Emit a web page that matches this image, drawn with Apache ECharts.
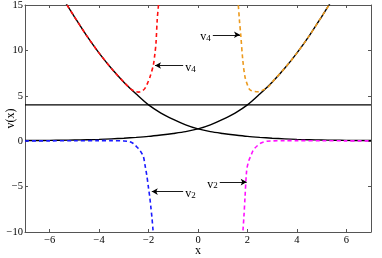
<!DOCTYPE html>
<html><head><meta charset="utf-8">
<script src="https://cdn.jsdelivr.net/npm/echarts@6/dist/echarts.min.js"></script>
<style>html,body{margin:0;padding:0;background:#fff}#c{width:382px;height:258px}</style>
</head><body><div id="c"></div>
<script>
// Axis ticks
var xTicks = [-6, -4, -2, 0, 2, 4, 6];
var yTicks = [-10, -5, 0, 5, 10, 15];
var horizLevel = 4;

// Black curve decreasing (left-high)
var blackDecX = [-5.6, -5.3, -5.0, -4.5, -4.0, -3.5, -3.0, -2.5, -2.0, -1.5, -1.0, -0.5, 0, 0.5, 1.0, 1.5, 2.0, 2.5, 3.0, 3.5, 4.0, 4.5, 5.0, 5.5, 6.0, 6.5, 7.0];
var blackDecY = [16.3, 15.0, 13.7, 11.6, 9.7, 8.0, 6.5, 5.2, 4.0, 3.1, 2.4, 1.8, 1.35, 1.05, 0.85, 0.68, 0.53, 0.42, 0.33, 0.26, 0.2, 0.16, 0.13, 0.11, 0.09, 0.08, 0.07];
// Black curve increasing (right-high)
var blackIncX = [-7.0, -6.5, -6.0, -5.5, -5.0, -4.5, -4.0, -3.5, -3.0, -2.5, -2.0, -1.5, -1.0, -0.5, 0, 0.5, 1.0, 1.5, 2.0, 2.5, 3.0, 3.5, 4.0, 4.5, 5.0, 5.3, 5.6];
var blackIncY = [0.07, 0.08, 0.09, 0.11, 0.13, 0.16, 0.2, 0.26, 0.33, 0.42, 0.53, 0.68, 0.85, 1.05, 1.35, 1.8, 2.4, 3.1, 4.0, 5.2, 6.5, 8.0, 9.7, 11.6, 13.7, 15.0, 16.3];

// v4 (left, red)
var v4LeftX = [-5.6, -5.3, -5.0, -4.5, -4.0, -3.5, -3.0, -2.7, -2.55, -2.4, -2.25, -2.14, -2.04, -1.94, -1.81, -1.75, -1.70, -1.65, -1.60, -1.57];
var v4LeftY = [16.3, 15.0, 13.7, 11.6, 9.7, 8.0, 6.5, 5.7, 5.5, 5.4, 5.55, 5.85, 6.4, 7.1, 8.35, 9.5, 10.8, 13.4, 15.0, 16.5];
// v4 (right, orange)
var v4RightX = [1.57, 1.63, 1.68, 1.73, 1.81, 1.9, 2.0, 2.1, 2.25, 2.44, 2.6, 2.85, 3.0, 3.5, 4.0, 4.5, 5.0, 5.3, 5.6];
var v4RightY = [16.5, 15.0, 13.2, 11.7, 9.0, 7.1, 6.2, 5.66, 5.5, 5.45, 5.6, 6.0, 6.5, 8.0, 9.7, 11.6, 13.7, 15.0, 16.3];

// v2 (left, blue)
var v2LeftX = [-7.0, -6.0, -5.0, -4.0, -3.5, -3.0, -2.8, -2.65, -2.55, -2.45, -2.35, -2.21, -2.14, -2.07, -2.01, -1.95, -1.91, -1.86, -1.82, -1.79];
var v2LeftY = [0.03, 0.04, 0.05, 0.06, 0.06, 0.03, -0.03, -0.2, -0.42, -0.7, -1.0, -1.7, -2.7, -3.8, -5.0, -6.2, -7.2, -8.5, -9.8, -10.6];
// v2 (right, magenta)
var v2RightX = [1.79, 1.82, 1.86, 1.9, 1.97, 2.05, 2.14, 2.24, 2.4, 2.55, 2.78, 3.0, 3.5, 4.0, 5.0, 6.0, 7.0];
var v2RightY = [-10.6, -9.8, -8.2, -6.3, -3.2, -2.2, -1.6, -0.97, -0.5, -0.2, 0.0, 0.03, 0.06, 0.06, 0.05, 0.04, 0.03];

// Annotations: [label, subscript, arrowFromX, arrowToX, y]
var notes = [
  ['v', '4', -0.6, -1.74, 8.34],
  ['v', '4', 0.6, 1.70, 11.72],
  ['v', '2', -0.6, -1.87, -5.55],
  ['v', '2', 0.88, 1.97, -4.5]
];

function pairs(xs, ys) { return xs.map(function (x, i) { return [x, ys[i]]; }); }
var FONT = 'Liberation Serif';
function fmt(v) { return String(v).replace('-', '\u2212'); }

var chart = echarts.init(document.getElementById('c'));
function axis(o, ticks, showLabel, margin, extra) {
  return Object.assign({
    type: 'value',
    axisLine: { show: true, onZero: false, lineStyle: { color: '#555', width: 1 } },
    axisTick: { show: true, inside: true, length: 3, customValues: ticks, lineStyle: { color: '#555' } },
    axisLabel: { show: showLabel, margin: margin, customValues: ticks, fontFamily: FONT, fontSize: 10.5, color: '#000', formatter: fmt },
    splitLine: { show: false }
  }, o, extra || {});
}

var series = [];
function addLine(xs, ys, color, width, dashed, z) {
  series.push({
    type: 'line', data: pairs(xs, ys), showSymbol: false, symbol: 'none', smooth: 0.3,
    clip: true, z: z, lineStyle: { color: color, width: width, type: dashed ? [4, 3] : 'solid' }, silent: true
  });
}
addLine(blackDecX, blackDecY, '#000', 1.4, false, 2);
addLine(blackIncX, blackIncY, '#000', 1.4, false, 2);
series.push({ type: 'line', data: [[-7, horizLevel], [7, horizLevel]], showSymbol: false, symbol: 'none', z: 2,
  lineStyle: { color: '#000', width: 1.4 }, silent: true });
addLine(v4LeftX, v4LeftY, '#ff1010', 1.6, true, 3);
addLine(v4RightX, v4RightY, '#ec9a1e', 1.6, true, 3);
addLine(v2LeftX, v2LeftY, '#1a1aff', 1.6, true, 3);
addLine(v2RightX, v2RightY, '#ff10ff', 1.6, true, 3);

series.push({
  type: 'line', data: [], z: 5, silent: true,
  markLine: {
    silent: true, animation: false,
    symbol: ['none', 'arrow'], symbolSize: [5, 6],
    lineStyle: { color: '#000', width: 0.9, type: 'solid' },
    label: { show: false },
    data: notes.map(function (n) { return [{ coord: [n[2], n[4]] }, { coord: [n[3], n[4]] }]; })
  },
  markPoint: {
    silent: true, animation: false, symbol: 'circle', symbolSize: 0,
    data: notes.map(function (n) {
      var right = n[2] > n[3];
      return {
        coord: [n[2], n[4]],
        label: {
          show: true, position: right ? 'right' : 'left', distance: 2,
          formatter: '{a|' + n[0] + '}{b|' + n[1] + '}',
          rich: {
            a: { fontFamily: FONT, fontSize: 12, color: '#000', verticalAlign: 'bottom' },
            b: { fontFamily: FONT, fontSize: 9, color: '#000', padding: [8, 0, 0, 0] }
          }
        }
      };
    })
  }
});

chart.setOption({
  animation: false,
  grid: { left: 25, right: 11, top: 5, bottom: 26, containLabel: false, outerBoundsMode: 'none' },
  xAxis: [
    axis({ min: -7, max: 7, position: 'bottom' }, xTicks, true, 3, {
      name: 'x', nameLocation: 'middle', nameGap: 13, nameMoveOverlap: false,
      nameTextStyle: { fontFamily: FONT, fontSize: 12, color: '#000' }
    }),
    axis({ min: -7, max: 7, position: 'top' }, xTicks, false, 3)
  ],
  yAxis: [
    axis({ min: -10, max: 15, position: 'left' }, yTicks, true, 2, {
      name: 'v(x)', nameLocation: 'middle', nameGap: 8, nameRotate: 90, nameMoveOverlap: false,
      nameTextStyle: { fontFamily: FONT, fontSize: 12, color: '#000' }
    }),
    axis({ min: -10, max: 15, position: 'right' }, yTicks, false, 2)
  ],
  series: series
});
</script></body></html>
